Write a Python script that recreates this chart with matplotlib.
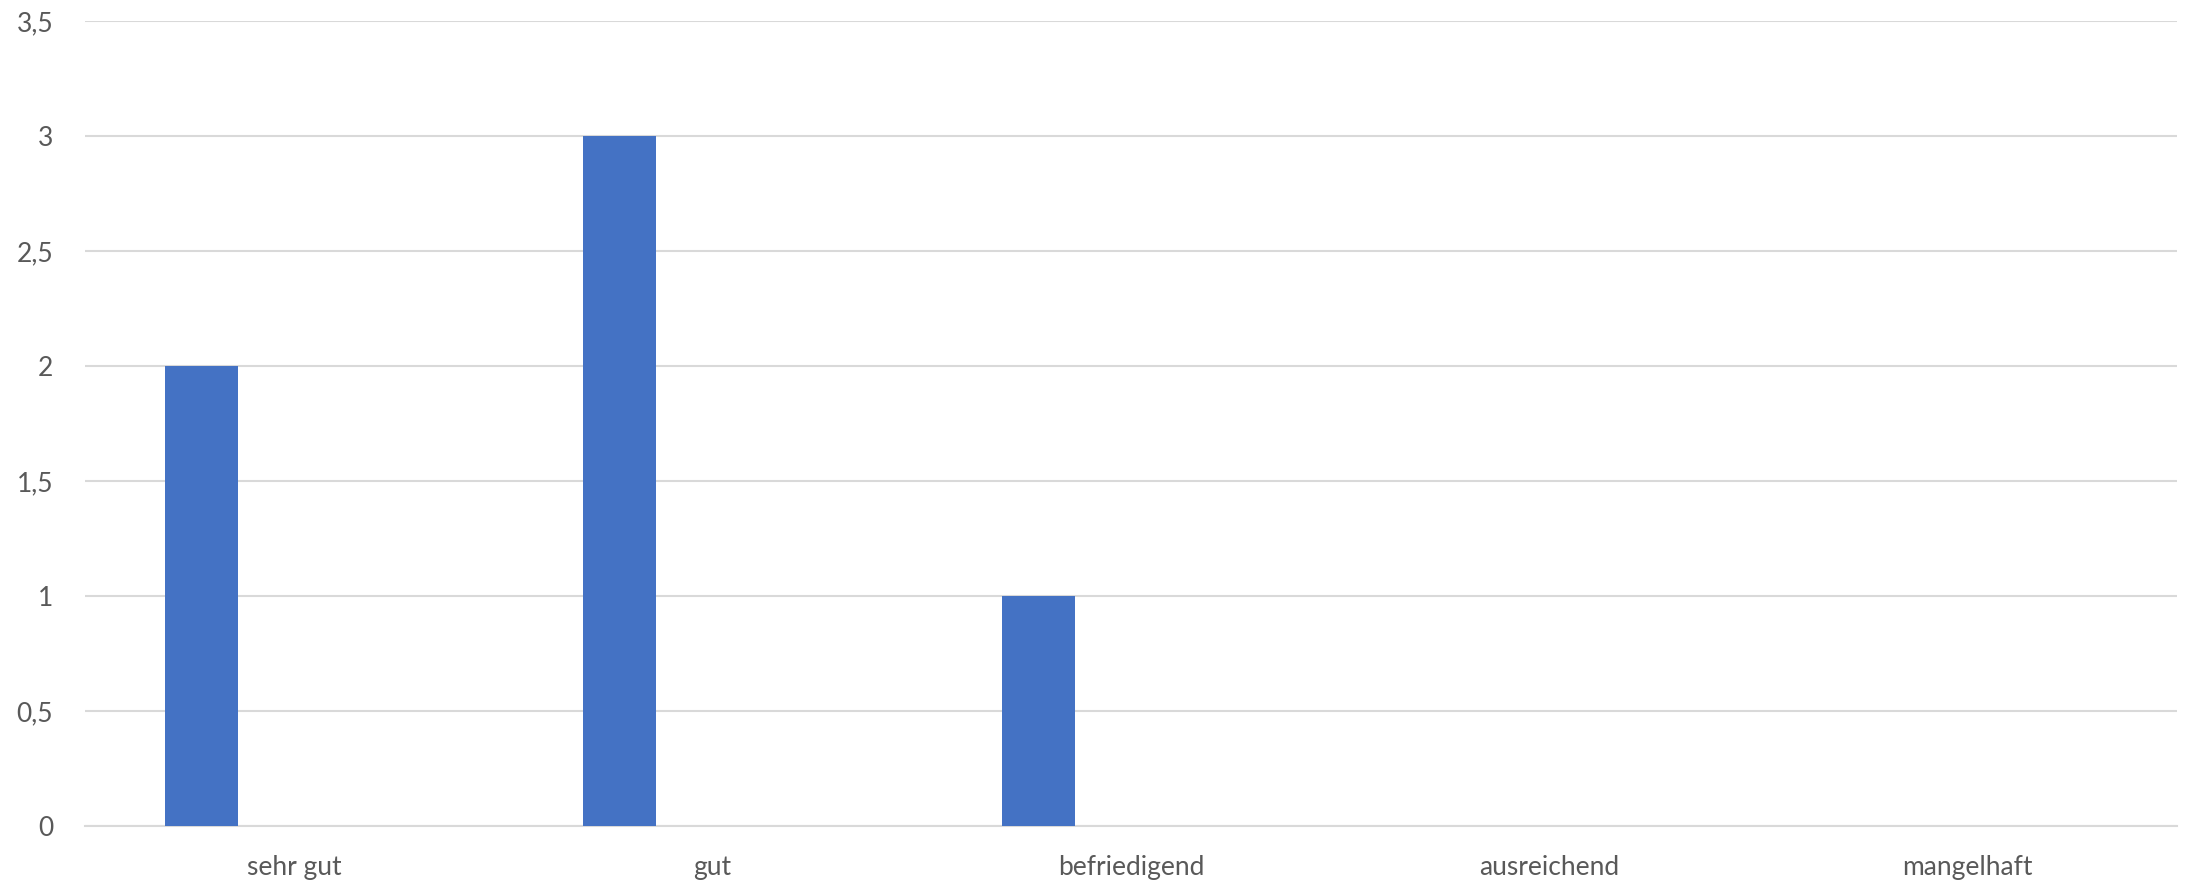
import numpy as np
import matplotlib
matplotlib.use("Agg")
import matplotlib.pyplot as plt
from matplotlib.ticker import FuncFormatter

plt.rcParams['font.family'] = ['Lato', 'DejaVu Sans']

# Daten: drei Reihen, nur die erste hat Werte
kategorien = ["sehr gut", "gut", "befriedigend", "ausreichend", "mangelhaft"]
reihe1 = [2, 3, 1, 0, 0]
reihe2 = [0, 0, 0, 0, 0]
reihe3 = [0, 0, 0, 0, 0]
y_ticks = [0, 0.5, 1, 1.5, 2, 2.5, 3, 3.5]

fig = plt.figure(figsize=(21.88, 8.85), dpi=100)
ax = fig.add_axes([85/2188, 59/885, (2177-85)/2188, (826-21)/885])

x = np.arange(len(kategorien))
# Excel-Stil: Lückenbreite 219 %, Überlappung -27 %
w = 1 / 5.73
schritt = 1.27 * w
for i, werte in enumerate([reihe1, reihe2, reihe3]):
    ax.bar(x + (i - 1) * schritt, werte, width=w, color="#4472C4",
           linewidth=0, zorder=3)

ax.set_xlim(-0.5, len(kategorien) - 0.5)
ax.set_ylim(0, 3.5)
ax.set_yticks(y_ticks)
ax.yaxis.set_major_formatter(FuncFormatter(lambda v, p: ("%g" % v).replace(".", ",")))
ax.set_xticks(x)
ax.set_xticklabels(kategorien)

ax.grid(axis="y", color="#D9D9D9", linewidth=1.5, zorder=0)
for s in ["top", "right", "left"]:
    ax.spines[s].set_visible(False)
ax.spines["bottom"].set_color("#D9D9D9")
ax.spines["bottom"].set_linewidth(1.5)
ax.tick_params(axis="both", length=0, labelsize=19, labelcolor="#595959")
ax.tick_params(axis="y", pad=23)
ax.tick_params(axis="x", pad=21)

fig.savefig("out.png", dpi=100)
